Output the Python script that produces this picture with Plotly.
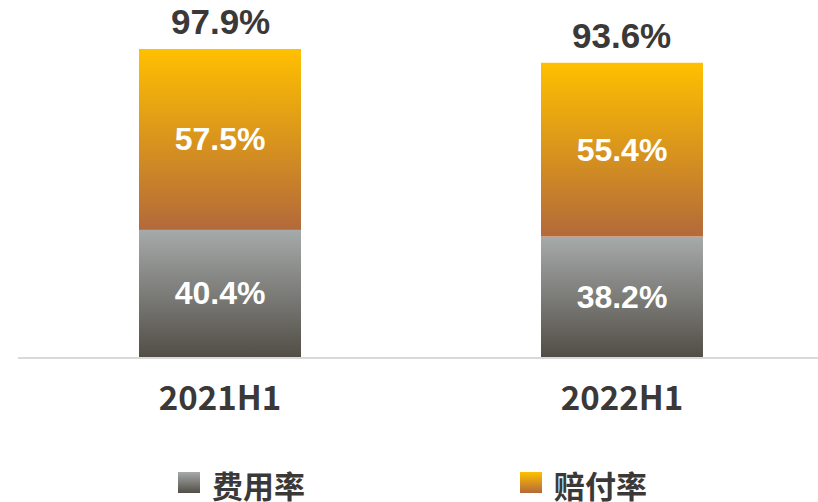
import base64
import plotly.graph_objects as go

# 数据
periods = ["2021H1", "2022H1"]
expense_ratio = [40.4, 38.2]   # 费用率
loss_ratio = [57.5, 55.4]      # 赔付率
combined_ratio = [97.9, 93.6]  # 综合成本率

# 渐变色 (上, 下)
gray_grad = ("#A6AAAA", "#524E47")
gold_grad = ("#FFC000", "#B3693A")
text_dark = "#3B3838"


def gradient_uri(top, bottom):
    svg = (
        '<svg xmlns="http://www.w3.org/2000/svg" width="10" height="100" '
        'viewBox="0 0 10 100" preserveAspectRatio="none">'
        '<defs><linearGradient id="g" x1="0" y1="0" x2="0" y2="1">'
        f'<stop offset="0" stop-color="{top}"/>'
        f'<stop offset="1" stop-color="{bottom}"/>'
        '</linearGradient></defs>'
        '<rect width="10" height="100" fill="url(#g)"/></svg>'
    )
    return "data:image/svg+xml;base64," + base64.b64encode(svg.encode()).decode()


gray_src = gradient_uri(*gray_grad)
gold_src = gradient_uri(*gold_grad)

x = list(range(len(periods)))
bar_w = 0.403
label_font = dict(family="Liberation Sans, Arial", size=32, color="white", weight="bold")

fig = go.Figure()
fig.add_trace(go.Bar(
    x=x, y=expense_ratio, name="费用率", width=bar_w,
    marker=dict(color="rgba(0,0,0,0)", line_width=0),
    text=[f"{v:.1f}%" for v in expense_ratio],
    textposition="inside", insidetextanchor="middle", textfont=label_font,
    showlegend=False,
))
fig.add_trace(go.Bar(
    x=x, y=loss_ratio, name="赔付率", width=bar_w,
    marker=dict(color="rgba(0,0,0,0)", line_width=0),
    text=[f"{v:.1f}%" for v in loss_ratio],
    textposition="inside", insidetextanchor="middle", textfont=label_font,
    showlegend=False,
))

# 渐变填充 (按数据坐标放置)
images = []
for i in x:
    images.append(dict(
        source=gray_src, xref="x", yref="y",
        x=i - bar_w / 2, y=expense_ratio[i], sizex=bar_w, sizey=expense_ratio[i],
        xanchor="left", yanchor="top", sizing="stretch", layer="below",
    ))
    images.append(dict(
        source=gold_src, xref="x", yref="y",
        x=i - bar_w / 2, y=expense_ratio[i] + loss_ratio[i], sizex=bar_w, sizey=loss_ratio[i],
        xanchor="left", yanchor="top", sizing="stretch", layer="below",
    ))

# 图例 (自定义渐变方块)
legend_items = [("费用率", gray_src, 0.2), ("赔付率", gold_src, 0.6275)]
annotations = []
for name, src, lx in legend_items:
    images.append(dict(
        source=src, xref="paper", yref="paper",
        x=lx, y=-0.322, sizex=0.0275, sizey=0.059,
        xanchor="left", yanchor="top", sizing="stretch", layer="above",
    ))
    annotations.append(dict(
        text=name, xref="paper", yref="paper", x=lx + 0.04, y=-0.356,
        xanchor="left", yanchor="middle", showarrow=False,
        font=dict(family="Noto Sans CJK SC", size=31, color=text_dark, weight="bold"),
    ))

# 合计标签
for i in x:
    annotations.append(dict(
        text=f"{combined_ratio[i]:.1f}%", x=i, y=combined_ratio[i],
        xref="x", yref="y", yanchor="bottom", yshift=6, showarrow=False,
        font=dict(family="Liberation Sans, Arial", size=35, color=text_dark, weight="bold"),
    ))

fig.update_layout(
    barmode="stack",
    width=818, height=502,
    margin=dict(l=18, r=0, t=0, b=145),
    paper_bgcolor="white", plot_bgcolor="white",
    images=images, annotations=annotations,
    xaxis=dict(
        range=[-0.5025, 1.4876], tickvals=x, ticktext=periods,
        showline=True, linecolor="#D9D9D9", linewidth=2,
        showgrid=False, zeroline=False, ticks="",
        ticklabelstandoff=11,
        tickfont=dict(family="Noto Sans CJK SC", size=33, color=text_dark, weight="bold"),
    ),
    yaxis=dict(range=[0, 113.48], visible=False),
)

fig.write_html(
    "out.html",
    config={"displayModeBar": False},
    post_script="document.body.style.margin = '0';",
)
